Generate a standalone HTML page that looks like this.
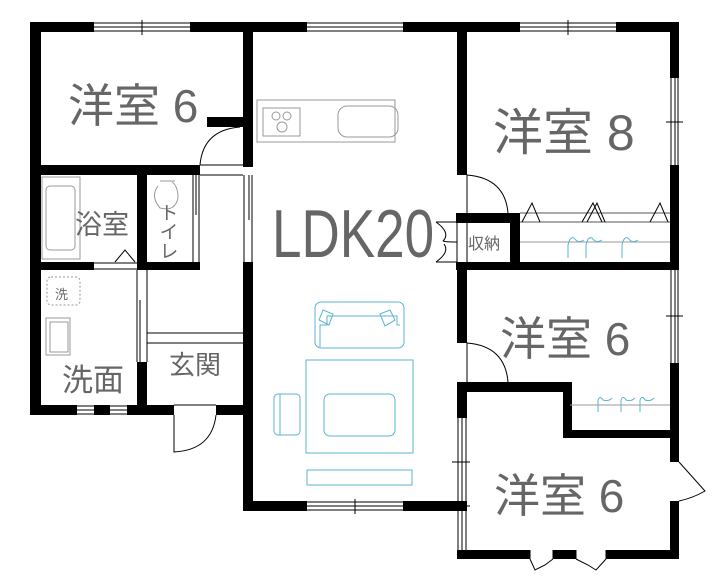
<!DOCTYPE html>
<html><head><meta charset="utf-8"><style>
html,body{margin:0;padding:0;background:#fff;}
svg{display:block}
text{font-family:"Liberation Sans","Noto Sans CJK JP",sans-serif;fill:#666;}
</style></head><body>
<svg width="716" height="585" viewBox="0 0 716 585" xmlns="http://www.w3.org/2000/svg">
<g fill="#000">
<rect x="30" y="22" width="64" height="10"/>
<rect x="190" y="22" width="117" height="10"/>
<rect x="403" y="22" width="117" height="10"/>
<rect x="616" y="22" width="63" height="10"/>
<rect x="30" y="22" width="11" height="393"/>
<rect x="243" y="22" width="10" height="145"/>
<rect x="243" y="262" width="10" height="249"/>
<rect x="207" y="117" width="40" height="10"/>
<rect x="30" y="165" width="170" height="10"/>
<rect x="137" y="165" width="10" height="105"/>
<rect x="30" y="262" width="64" height="8"/>
<rect x="137" y="262" width="63" height="8"/>
<rect x="137" y="362" width="10" height="50"/>
<rect x="30" y="405" width="47" height="10"/>
<rect x="94" y="405" width="16" height="10"/>
<rect x="127" y="405" width="47" height="10"/>
<rect x="216" y="405" width="37" height="10"/>
<rect x="243" y="501" width="64" height="10"/>
<rect x="403" y="501" width="64" height="10"/>
<rect x="457" y="22" width="10" height="153"/>
<rect x="456" y="213" width="64" height="10"/>
<rect x="510" y="213" width="10" height="57"/>
<rect x="456" y="262" width="223" height="8"/>
<rect x="457" y="262" width="10" height="81"/>
<rect x="457" y="382" width="115" height="10"/>
<rect x="457" y="382" width="10" height="36"/>
<rect x="563" y="382" width="9" height="56"/>
<rect x="563" y="430" width="116" height="8"/>
<rect x="457" y="550" width="73" height="9"/>
<rect x="553" y="550" width="23" height="9"/>
<rect x="606" y="550" width="73" height="9"/>
<rect x="670" y="22" width="9" height="56"/>
<rect x="670" y="165" width="9" height="102"/>
<rect x="670" y="363" width="9" height="99"/>
<rect x="670" y="501" width="9" height="58"/>
</g>
<g fill="none" stroke="#000" stroke-width="1">
<path d="M94 23H190M94 27H190M94 31H190M142 20V35"/>
<path d="M307 23H403M307 27H403M307 31H403"/>
<path d="M520 23H616M520 27H616M520 31H616M568 20V35"/>
<path d="M671 78V165M675 78V165M678 78V165M666 122H683"/>
<path d="M671 270V363M675 270V363M678 270V363M666 316H683"/>
<path d="M307 502H403M307 506H403M307 510H403M355 499V514"/>
<path d="M458 418V550M462 418V550M466 418V550M452 462H470M452 506H470"/>
<path d="M77 406H94M77 410H94M77 414H94M110 406H127M110 410H127M110 414H127"/>
<path d="M94 263H137M94 269H137"/>
<path d="M200 165Q203 130 240 127M200 165H243M200 175H243"/>
<path d="M467 175Q505 178 508 213M467 175V213"/>
<path d="M467 343Q505 346 508 382M467 343V382"/>
<path d="M174 415V452Q212 450 216 415M174 405H216"/>
<path d="M679 462L705 491Q693 498 679 501"/>
<path d="M530 559L535 570L545 565L553 559M576 559L588 565L596 570L606 559M530 550V559M553 550V559M576 550V559M606 550V559"/>
<path d="M457 222V262M467 222V262M436 222H457M436 262H457M436 222Q450 232 444 240Q440 242 457 242M436 262Q450 252 444 244"/>
<path d="M193 175V262M199 175V262M196 175V215M244 175V262M252 175V262M249 175V220"/>
<path d="M137 270V362M147 270V362M140 300V362M147 333H243M147 343H243"/>
<path d="M520 222H670M520 213H670" stroke="#555"/>
<path d="M522 222L532 203L540 222M582 222L593 203L602 222M587 222L597 203L605 222M650 222L660 203L668 222M115 262L125 250L135 262"/>
</g>
<g fill="none" stroke="#999" stroke-width="1">
<path d="M520 242H670M570 405H670"/>
<rect x="257" y="100" width="138" height="42"/>
<rect x="263" y="108" width="37" height="28"/>
<rect x="338" y="106" width="60" height="31" rx="9"/>
<circle cx="276" cy="116" r="4"/><circle cx="287" cy="116" r="4"/><circle cx="282" cy="127" r="5"/>
<rect x="42" y="177" width="38" height="82"/>
<rect x="46" y="186" width="29" height="64" rx="4"/>
<rect x="46" y="318" width="24" height="37"/>
<rect x="50" y="322" width="18" height="30"/>
<rect x="47" y="277" width="33" height="28" rx="4" stroke-dasharray="2 2"/>
<path d="M160 181H175M158 186Q150 196 160 208Q175 212 178 198Q178 186 172 182"/>
</g>
<g fill="none" stroke="#5ab4d3" stroke-width="1">
<path d="M568 258V245Q570 236 574 238Q578 244 584 240M586 258V245Q588 236 592 238Q596 244 602 240M622 258V245Q624 236 628 238Q632 244 638 240"/>
<path d="M598 412V400Q600 395 603 400Q608 402 612 398M621 412V400Q623 395 626 400Q631 402 635 398M640 412V400Q642 395 645 400Q650 402 654 398"/>
<rect x="315" y="302" width="89" height="46" rx="6"/>
<path d="M320 347V325h7V316h70v9h3M319 320L323 310L333 314L329 325Z M380 314L390 310L395 320L385 326Z"/>
<rect x="306" y="360" width="107" height="93"/>
<rect x="324" y="394" width="71" height="42" rx="6"/>
<rect x="274" y="394" width="26" height="41" rx="4"/>
<path d="M280 394V435"/>
<rect x="307" y="470" width="105" height="15"/>
</g>
<text x="68" y="122" font-size="46">洋室 6</text>
<text x="493" y="150" font-size="50">洋室 8</text>
<text x="500" y="355" font-size="46">洋室 6</text>
<text x="494" y="512" font-size="46">洋室 6</text>
<text x="75" y="234" font-size="27">浴室</text>
<text x="167" y="203" font-size="19" writing-mode="tb">トイレ</text>
<text x="62" y="391" font-size="31">洗面</text>
<text x="169" y="374" font-size="26">玄関</text>
<text x="55" y="299" font-size="13">洗</text>
<text x="468" y="249" font-size="16">収納</text>
<text x="272" y="257" font-size="68" transform="translate(272 0) scale(0.78 1) translate(-272 0)">LDK20</text>
</svg>
</body></html>
